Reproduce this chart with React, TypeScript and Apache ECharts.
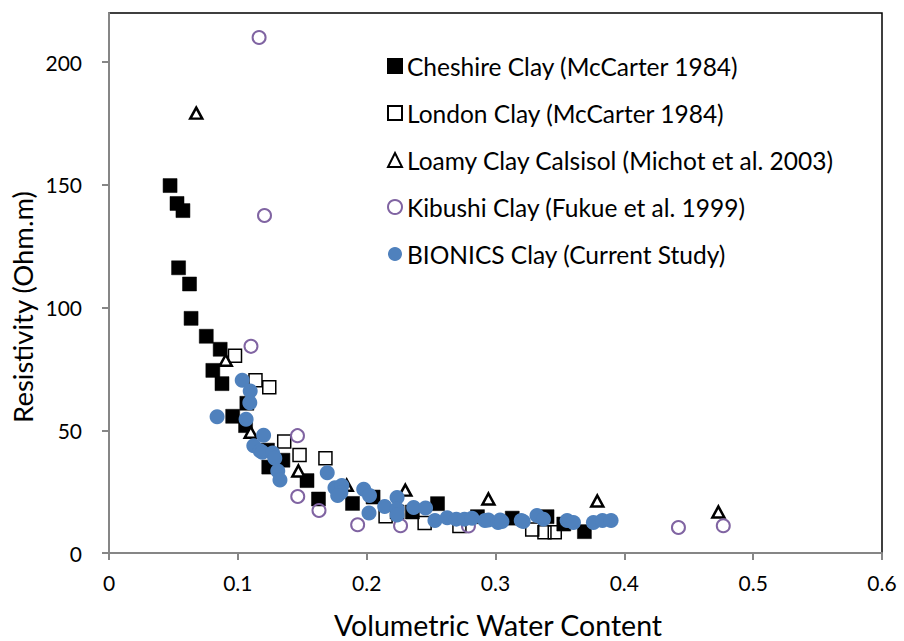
import React, { useEffect, useRef } from "react";
import * as echarts from "echarts";

const seriesNames = [
  "Cheshire Clay (McCarter 1984)",
  "London Clay (McCarter 1984)",
  "Loamy Clay Calsisol (Michot et al. 2003)",
  "Kibushi Clay (Fukue et al. 1999)",
  "BIONICS Clay (Current Study)",
];

const cheshireClay: [number, number][] = [
  [0.0474, 149.7], [0.0528, 142.4], [0.0574, 139.5], [0.054, 116.2], [0.0625, 109.6],
  [0.0637, 95.6], [0.0755, 88.3], [0.0863, 83], [0.0806, 74.4], [0.0877, 69],
  [0.096, 55.7], [0.107, 61], [0.106, 51.9], [0.123, 41.9], [0.124, 35],
  [0.135, 37.8], [0.1537, 29.5], [0.1626, 22], [0.189, 20.2], [0.205, 22.8],
  [0.2236, 16.7], [0.2355, 16.7], [0.255, 20.1], [0.286, 14.8], [0.313, 14.2],
  [0.34, 14.8], [0.353, 11.8], [0.369, 8.7],
];

const londonClay: [number, number][] = [
  [0.0978, 80.4], [0.1137, 70.4], [0.1244, 67.5], [0.136, 45.4], [0.1479, 39.9],
  [0.168, 38.6], [0.2147, 15], [0.245, 12.2], [0.272, 11], [0.3285, 9.6],
  [0.338, 8.5], [0.346, 8.5],
];

const loamyClay: [number, number][] = [
  [0.0677, 179.2], [0.0906, 78.5], [0.11, 49.2], [0.147, 33.4], [0.1845, 27.6],
  [0.23, 25.6], [0.2945, 22], [0.379, 21.2], [0.473, 16.7],
];

const kibushiClay: [number, number][] = [
  [0.1165, 210], [0.1207, 137.5], [0.1102, 84.2], [0.1463, 47.8], [0.1465, 23],
  [0.163, 17.3], [0.193, 11.5], [0.2263, 11.1], [0.279, 11], [0.442, 10.4],
  [0.4768, 11.1],
];

const bionicsClay: [number, number][] = [
  [0.1034, 70.4], [0.1096, 66], [0.1093, 61.2], [0.0839, 55.5], [0.1064, 54.5],
  [0.12, 48], [0.1124, 43.7], [0.1173, 41.7], [0.119, 41], [0.127, 40.7],
  [0.1287, 38.6], [0.131, 33.4], [0.1327, 29.7], [0.1694, 32.7], [0.1754, 26.6],
  [0.1807, 27.5], [0.18, 24.6], [0.1775, 23.4], [0.1977, 26], [0.2022, 23.4],
  [0.2018, 16.3], [0.214, 18.9], [0.2236, 22.6], [0.2236, 17.9], [0.2236, 15.5],
  [0.2365, 18.5], [0.2457, 18.3], [0.253, 13.2], [0.2625, 14.4], [0.2696, 13.8],
  [0.2759, 13.8], [0.2818, 14.2], [0.2918, 13.2], [0.2945, 13.4], [0.302, 12.4],
  [0.3036, 13.4], [0.305, 12.8], [0.32, 13.2], [0.3215, 12.8], [0.3322, 15.3],
  [0.3372, 13.8], [0.3556, 13.2], [0.3605, 12.4], [0.376, 12.4], [0.383, 13.2],
  [0.3897, 13.2],
];

const xTicks = [0, 0.1, 0.2, 0.3, 0.4, 0.5, 0.6];
const yTicks = [0, 50, 100, 150, 200];
const xTitle = "Volumetric Water Content";
const yTitle = "Resistivity (Ohm.m)";

const FONT = "Lato";
const AXIS_GRAY = "#868686";

export default function App() {
  const ref = useRef<HTMLDivElement>(null);

  useEffect(() => {
    const chart = echarts.init(ref.current!, null, { renderer: "svg" });
    chart.setOption({
      animation: false,
      backgroundColor: "#ffffff",
      textStyle: { fontFamily: FONT, color: "#000" },
      grid: {
        left: 109,
        right: 22,
        top: 13,
        bottom: 88,
        show: true,
        borderColor: "#000",
        borderWidth: 1.5,
        backgroundColor: "transparent",
      },
      legend: {
        orient: "vertical",
        left: 382,
        top: 46,
        itemWidth: 14,
        itemHeight: 14,
        itemGap: 17,
        selectedMode: false,
        textStyle: {
          fontFamily: FONT,
          fontSize: 24.5,
          lineHeight: 30,
          color: "#000",
        },
        data: seriesNames,
      },
      xAxis: {
        type: "value",
        min: xTicks[0],
        max: xTicks[xTicks.length - 1],
        interval: 0.1,
        splitLine: { show: false },
        axisLine: { show: true, lineStyle: { color: AXIS_GRAY, width: 2 } },
        axisTick: { show: true, inside: false, length: 7, lineStyle: { color: AXIS_GRAY, width: 2 } },
        axisLabel: {
          fontFamily: FONT,
          fontSize: 21,
          color: "#000",
          margin: 19,
          formatter: (v: number) => String(Math.round(v * 10) / 10),
        },
      },
      yAxis: {
        type: "value",
        min: 0,
        max: 220,
        interval: 50,
        splitLine: { show: false },
        axisLine: { show: true, lineStyle: { color: AXIS_GRAY, width: 2 } },
        axisTick: {
          show: true,
          inside: false,
          length: 7,
          customValues: yTicks,
          lineStyle: { color: AXIS_GRAY, width: 2 },
        },
        axisLabel: {
          fontFamily: FONT,
          fontSize: 21,
          color: "#000",
          margin: 27,
          customValues: yTicks,
        },
      },
      graphic: [
        {
          type: "text",
          x: 498,
          y: 625,
          style: {
            text: xTitle,
            fontFamily: FONT,
            fontSize: 28.5,
            fill: "#000",
            textAlign: "center",
            textVerticalAlign: "middle",
          },
        },
        {
          type: "text",
          x: 22,
          y: 307,
          rotation: Math.PI / 2,
          style: {
            text: yTitle,
            fontFamily: FONT,
            fontSize: 27.5,
            fill: "#000",
            textAlign: "center",
            textVerticalAlign: "middle",
          },
        },
      ],
      series: [
        {
          name: seriesNames[0],
          type: "scatter",
          data: cheshireClay,
          symbol: "rect",
          symbolSize: 14,
          itemStyle: { color: "#000", borderColor: "#000", borderWidth: 0.5, opacity: 1 },
        },
        {
          name: seriesNames[1],
          type: "scatter",
          data: londonClay,
          symbol: "rect",
          symbolSize: 13,
          itemStyle: { color: "rgba(255,255,255,0)", borderColor: "#000", borderWidth: 1.5, opacity: 1 },
        },
        {
          name: seriesNames[2],
          type: "scatter",
          data: loamyClay,
          symbol: "triangle",
          symbolSize: [12, 11],
          itemStyle: { color: "#fff", borderColor: "#000", borderWidth: 2.5, opacity: 1 },
        },
        {
          name: seriesNames[3],
          type: "scatter",
          data: kibushiClay,
          symbol: "circle",
          symbolSize: 13,
          itemStyle: { color: "rgba(255,255,255,0)", borderColor: "#8064A2", borderWidth: 2, opacity: 1 },
        },
        {
          name: seriesNames[4],
          type: "scatter",
          data: bionicsClay,
          symbol: "circle",
          symbolSize: 15,
          itemStyle: { color: "#4F81BD", opacity: 1 },
        },
      ],
    });
    return () => chart.dispose();
  }, []);

  return (
    <div
      ref={ref}
      style={{ position: "fixed", left: 0, top: 0, width: 904, height: 641, background: "#fff" }}
    />
  );
}
